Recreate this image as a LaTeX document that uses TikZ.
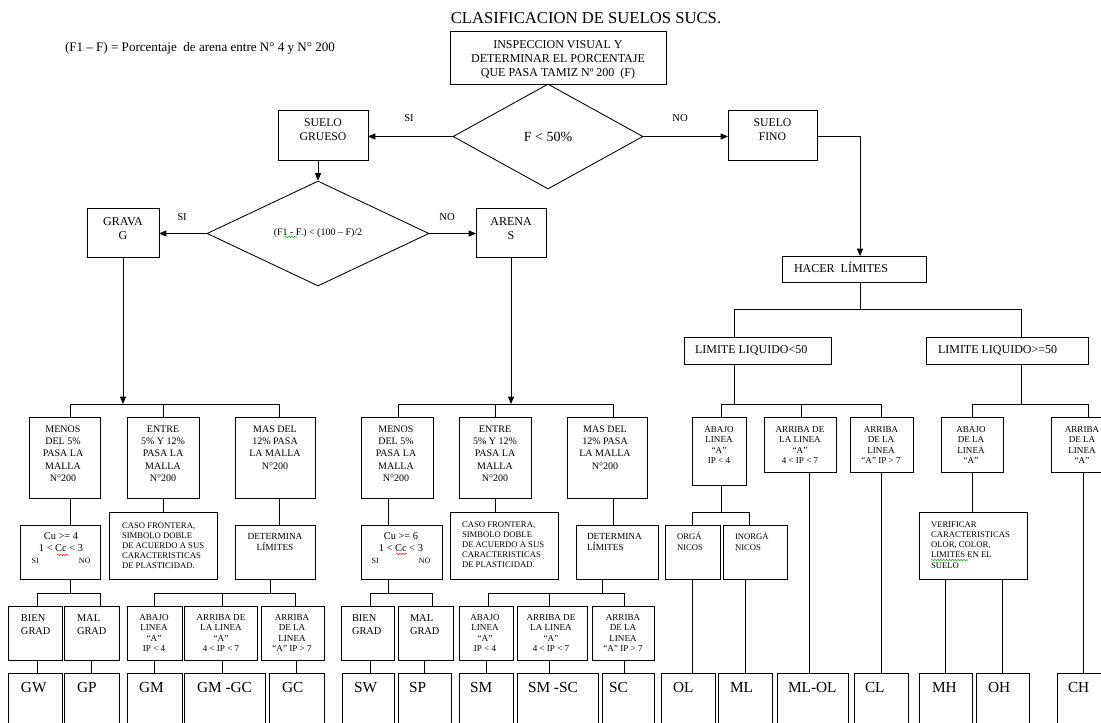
\documentclass[tikz,border=0pt]{standalone}
\usepackage{fontspec}
\setmainfont{Liberation Serif}
\usetikzlibrary{shapes.geometric,arrows.meta,decorations.pathmorphing}
\newcommand\fs[2]{\fontsize{#1}{#2}\selectfont}
\newcommand\bx[5]{\node[box,anchor=north west,minimum width={(#4-#2)*0.75pt},minimum height={(#5-#3)*0.75pt}] (#1) at (#2,#3) {};}
\tikzset{
  box/.style={draw, inner sep=0pt, outer sep=0pt},
  arr/.style={-{Triangle[length=5.5pt,width=4.5pt]}},
  tx/.style={inner sep=0pt, outer sep=0pt, align=center},
  txl/.style={inner sep=0pt, outer sep=0pt, align=left},
  big/.style={tx, font=\fs{8.8}{10.5}},
  lbl/.style={tx, anchor=base, font=\fs{8}{9}},
  rowa/.style={tx, anchor=north, font=\fs{7.5}{9.2}},
  rowc/.style={tx, anchor=north, font=\fs{6.8}{7.9}},
  res/.style={tx, anchor=base west, font=\fs{11.5}{13}},
  squig/.style={decorate, decoration={snake, amplitude=0.45pt, segment length=2.2pt}, line width=0.4pt},
}
\begin{document}
\begin{tikzpicture}[x=0.75pt,y=-0.75pt,line width=0.65pt]
\path[fill=white,use as bounding box] (0,0) rectangle (1101,723);

% ---- header ----
\node[tx,anchor=base,font=\fs{12.5}{15}] (title) at (586,24) {CLASIFICACION DE SUELOS SUCS.};
\node[tx,anchor=base west,font=\fs{9.8}{12}] (note) at (65,52) {(F1 – F) = Porcentaje\ \ de arena entre N° 4 y N° 200};

\bx{insp}{450}{31}{666}{84}
\node[big,anchor=north,font=\fs{9}{10.5}] (t-insp) at (558,40.3) {INSPECCION VISUAL Y\\DETERMINAR EL PORCENTAJE\\QUE PASA TAMIZ Nº 200\ \ (F)};

\node[diamond,draw,inner sep=0pt,minimum width={190*0.75pt},minimum height={105*0.75pt},font=\fs{10.5}{12}] (d1) at (548,136.5) {F < 50\%};
\node[lbl] (si1) at (409,122) {SI};
\node[lbl] (no1) at (680,122) {NO};

\bx{sg}{278}{110}{368}{160}
\node[big,anchor=north] (t-sg) at (323,119.2) {SUELO\\GRUESO};
\bx{sf}{728}{110}{817}{160}
\node[big,anchor=north] (t-sf) at (772.5,119.2) {SUELO\\FINO};
\draw[arr] (d1.west) -- (d1.west -| sg.east);
\draw[arr] (d1.east) -- (d1.east -| sf.west);

\node[diamond,draw,inner sep=0pt,minimum width={222*0.75pt},minimum height={105*0.75pt},font=\fs{7.5}{9}] (d2) at (318,233.5) {(F1 - F.) < (100 – F)/2};
\draw[arr] (sg.south -| d2.north) -- (d2.north);
\node[lbl] (si2) at (182,221) {SI};
\node[lbl] (no2) at (447,221) {NO};

\bx{gr}{87}{208}{159}{257}
\node[big,anchor=north,font=\fs{9}{10.5}] (t-gr) at (123,217.1) {GRAVA\\G};
\bx{ar}{476}{208}{546}{257}
\node[big,anchor=north,font=\fs{9}{10.5}] (t-ar) at (511,217.1) {ARENA\\S};
\draw[arr] (d2.west) -- (d2.west -| gr.east);
\draw[arr] (d2.east) -- (d2.east -| ar.west);

% ---- coordinates ----
\coordinate (gL) at (70,404);  \coordinate (gR) at (279,404);
\coordinate (gcuL) at (37,593); \coordinate (gcuR) at (100,593);
\coordinate (gdC) at (270,593); \coordinate (gdL) at (154,593); \coordinate (gdM) at (222,593); \coordinate (gdR) at (295,593);
\coordinate (sL) at (398,404); \coordinate (sR) at (613,404);
\coordinate (scuC) at (388,593); \coordinate (scuL) at (370,593); \coordinate (scuR) at (432,593);
\coordinate (sdC) at (602,593); \coordinate (sdL) at (488,593); \coordinate (sdM) at (549,593); \coordinate (sdR) at (624,593);
\coordinate (hx) at (860,309); \coordinate (ftL) at (734,309); \coordinate (ftR) at (1021,309);
\coordinate (f1C) at (734,404); \coordinate (f1L) at (721,404); \coordinate (f1M) at (801,404); \coordinate (f1R) at (881,404);
\coordinate (f2L) at (972,404); \coordinate (f2C) at (1021,404); \coordinate (f2R) at (1088,404);
\coordinate (foC) at (721,512); \coordinate (foL) at (692,512); \coordinate (foR) at (749,512);
\coordinate (fx809) at (809,600);

% ---- GRAVA group ----
\bx{gm1}{29}{417}{100}{498} \bx{gm2}{127}{417}{199}{498} \bx{gm3}{235}{417}{315}{498}
\node[rowa] (t-gm1) at (63,425.8) {MENOS\\DEL 5\%\\PASA LA\\MALLA\\N°200};
\node[rowa] (t-gm2) at (163,425.8) {ENTRE\\5\% Y 12\%\\PASA LA\\MALLA\\N°200};
\node[rowa] (t-gm3) at (275,425.8) {MAS DEL\\12\% PASA\\LA MALLA\\N°200};

\bx{gcu}{20}{525}{100}{579} \bx{gcf}{109}{512}{217}{579} \bx{gdl}{235}{525}{315}{579}
\node[tx,anchor=north,font=\fs{7.8}{9}] (t-gcu) at (61,533.1) {Cu >= 4\\1 < Cc < 3\\{\fs{6}{9}\makebox[44pt]{SI\hfill NO}}};
\node[txl,anchor=north west,font=\fs{6.5}{7.65}] (t-gcf) at (122,522.3) {CASO FRONTERA,\\SIMBOLO DOBLE\\DE ACUERDO A SUS\\CARACTERISTICAS\\DE PLASTICIDAD.};
\node[tx,anchor=north,font=\fs{7}{8.25}] (t-gdl) at (275,533.8) {DETERMINA\\LÍMITES};

\bx{gbg}{8}{606}{62}{660} \bx{gmg}{64}{606}{119}{660} \bx{gab}{127}{606}{182}{660} \bx{gar1}{184}{606}{257}{660} \bx{gar2}{261}{606}{324}{660}
\node[txl,anchor=north west,font=\fs{7.8}{9.75}] (t-gbg) at (21,615.1) {BIEN\\GRAD};
\node[txl,anchor=north west,font=\fs{7.8}{9.75}] (t-gmg) at (77,615.1) {MAL\\GRAD};
\node[rowc] (t-gab) at (154,614.1) {ABAJO\\LINEA\\“A”\\IP < 4};
\node[rowc] (t-gar1) at (221,614.1) {ARRIBA DE\\LA LINEA\\“A”\\4 < IP < 7};
\node[rowc] (t-gar2) at (292,614.1) {ARRIBA\\DE LA\\LINEA\\“A” IP > 7};

\bx{gw}{8}{673}{62}{740} \bx{gp}{64}{673}{119}{740} \bx{gmm}{127}{673}{182}{740} \bx{gmgc}{184}{673}{265}{740} \bx{gc}{269}{673}{324}{740}
\node[res] (t-gw) at (21,693) {GW};
\node[res] (t-gp) at (77,693) {GP};
\node[res] (t-gmm) at (139,693) {GM};
\node[res] (t-gmgc) at (197,693) {GM -GC};
\node[res] (t-gc) at (282,693) {GC};

\draw[arr] (gr.south) -- (gr.south |- gL);
\draw (gm1.north -| gL) -- (gL) -- (gR) -- (gm3.north -| gR);
\draw (gm2.north) -- (gm2.north |- gL);
\draw (gm1.south -| gL) -- (gcu.north -| gL);
\draw (gm2.south) -- (gm2.south |- gcf.north);
\draw (gm3.south -| gR) -- (gdl.north -| gR);
\draw (gcu.south -| gL) -- (gL |- gcuL);
\draw (gbg.north -| gcuL) -- (gcuL) -- (gcuR) -- (gmg.north -| gcuR);
\draw (gdl.south -| gdC) -- (gdC);
\draw (gab.north -| gdL) -- (gdL) -- (gdR) -- (gar2.north -| gdR);
\draw (gdM) -- (gar1.north -| gdM);
\draw (gbg.south -| gcuL) -- (gw.north -| gcuL);
\draw (gmg.south -| gp.north) -- (gp.north);
\draw (gab.south -| gmm.north) -- (gmm.north);
\draw (gar1.south -| gdM) -- (gmgc.north -| gdM);
\draw (gar2.south -| gc.north) -- (gc.north);

% ---- ARENA group ----
\bx{sm1}{361}{417}{433}{498} \bx{sm2}{459}{417}{531}{498} \bx{sm3}{567}{417}{647}{498}
\node[rowa] (t-sm1) at (396,425.8) {MENOS\\DEL 5\%\\PASA LA\\MALLA\\N°200};
\node[rowa] (t-sm2) at (495,425.8) {ENTRE\\5\% Y 12\%\\PASA LA\\MALLA\\N°200};
\node[rowa] (t-sm3) at (605,425.8) {MAS DEL\\12\% PASA\\LA MALLA\\N°200};

\bx{scu}{361}{525}{442}{579} \bx{scf}{450}{512}{558}{579} \bx{sdl}{576}{525}{658}{579}
\node[tx,anchor=north,font=\fs{7.8}{9}] (t-scu) at (401,533.1) {Cu >= 6\\1 < Cc < 3\\{\fs{6}{9}\makebox[44pt]{SI\hfill NO}}};
\node[txl,anchor=north west,font=\fs{6.5}{7.65}] (t-scf) at (462,521.3) {CASO FRONTERA,\\SIMBOLO DOBLE\\DE ACUERDO A SUS\\CARACTERISTICAS\\DE PLASTICIDAD.};
\node[txl,anchor=north west,font=\fs{7}{8.25}] (t-sdl) at (587,533.8) {DETERMINA\\LÍMITES};

\bx{sbg}{341}{606}{394}{660} \bx{smg}{398}{606}{453}{660} \bx{sab}{459}{606}{513}{660} \bx{sar1}{517}{606}{587}{660} \bx{sar2}{592}{606}{654}{660}
\node[txl,anchor=north west,font=\fs{7.8}{9.75}] (t-sbg) at (352,615.1) {BIEN\\GRAD};
\node[txl,anchor=north west,font=\fs{7.8}{9.75}] (t-smg) at (410,615.1) {MAL\\GRAD};
\node[rowc] (t-sab) at (485,614.1) {ABAJO\\LINEA\\“A”\\IP < 4};
\node[rowc] (t-sar1) at (551,614.1) {ARRIBA DE\\LA LINEA\\“A”\\4 < IP < 7};
\node[rowc] (t-sar2) at (623,614.1) {ARRIBA\\DE LA\\LINEA\\“A” IP > 7};

\bx{sw}{342}{673}{394}{740} \bx{sp}{398}{673}{451}{740} \bx{sm}{459}{673}{513}{740} \bx{smsc}{517}{673}{598}{740} \bx{sc}{602}{673}{654}{740}
\node[res] (t-sw) at (354,693) {SW};
\node[res] (t-sp) at (409,693) {SP};
\node[res] (t-sm) at (470,693) {SM};
\node[res] (t-smsc) at (528,693) {SM -SC};
\node[res] (t-sc) at (609,693) {SC};

\draw[arr] (ar.south) -- (ar.south |- sL);
\draw (sm1.north -| sL) -- (sL) -- (sR) -- (sm3.north -| sR);
\draw (sm2.north) -- (sm2.north |- sL);
\draw (sm1.south -| scuC) -- (scu.north -| scuC);
\draw (sm2.south) -- (sm2.south |- scf.north);
\draw (sm3.south -| sR) -- (sdl.north -| sR);
\draw (scu.south -| scuC) -- (scuC);
\draw (sbg.north -| scuL) -- (scuL) -- (scuR) -- (smg.north -| scuR);
\draw (sdl.south -| sdC) -- (sdC);
\draw (sab.north -| sdL) -- (sdL) -- (sdR) -- (sar2.north -| sdR);
\draw (sdM) -- (sar1.north -| sdM);
\draw (sbg.south -| scuL) -- (sw.north -| scuL);
\draw (smg.south -| sp.north) -- (sp.north);
\draw (sab.south -| sm.north) -- (sm.north);
\draw (sar1.south -| sdM) -- (smsc.north -| sdM);
\draw (sar2.south -| sdR) -- (sc.north -| sdR);

% ---- SUELO FINO group ----
\bx{hl}{782}{256}{926}{282}
\node[tx,anchor=base west,font=\fs{9}{10.5}] (t-hl) at (794,273) {HACER\ \ LÍMITES};
\bx{ll1}{684}{337}{831}{364}
\node[tx,anchor=base west,font=\fs{9}{10.5}] (t-ll1) at (695,354) {LIMITE LIQUIDO<50};
\bx{ll2}{926}{337}{1088}{364}
\node[tx,anchor=base west,font=\fs{9}{10.5}] (t-ll2) at (938,354) {LIMITE LIQUIDO>=50};

\bx{fab}{692}{417}{746}{485} \bx{far1}{764}{417}{836}{472} \bx{far2}{850}{417}{913}{472} \bx{fab2}{941}{417}{1003}{472} \bx{far3}{1051}{417}{1115}{472}
\node[rowc] (t-fab) at (719,426.1) {ABAJO\\LINEA\\“A”\\IP < 4};
\node[rowc] (t-far1) at (800,426.1) {ARRIBA DE\\LA LINEA\\“A”\\4 < IP < 7};
\node[rowc] (t-far2) at (881,426.1) {ARRIBA\\DE LA\\LINEA\\“A” IP > 7};
\node[rowc] (t-fab2) at (971,426.1) {ABAJO\\DE LA\\LINEA\\“A”};
\node[rowc] (t-far3) at (1082,426.1) {ARRIBA\\DE LA\\LINEA\\“A”};

\bx{forg}{665}{525}{720}{579} \bx{finorg}{723}{525}{787}{579} \bx{fver}{919}{512}{1027}{579}
\node[txl,anchor=north west,font=\fs{6.5}{8.25}] (t-forg) at (677,532.5) {ORGÁ\\NICOS};
\node[txl,anchor=north west,font=\fs{6.5}{8.25}] (t-finorg) at (735,532.5) {INORGÁ\\NICOS};
\node[txl,anchor=north west,font=\fs{6.5}{7.7}] (t-fver) at (931,521.3) {VERIFICAR\\CARACTERISTICAS\\OLOR, COLOR,\\LIMITES EN EL\\SUELO};

\bx{ol}{661}{673}{715}{740} \bx{ml}{718}{673}{772}{740} \bx{mlol}{777}{673}{848}{740} \bx{cl}{854}{673}{908}{740}
\bx{mh}{919}{673}{972}{740} \bx{oh}{976}{673}{1029}{740} \bx{ch}{1057}{673}{1125}{740}
\node[res] (t-ol) at (673,693) {OL};
\node[res] (t-ml) at (730,693) {ML};
\node[res] (t-mlol) at (788,693) {ML-OL};
\node[res] (t-cl) at (865,693) {CL};
\node[res] (t-mh) at (932,693) {MH};
\node[res] (t-oh) at (988,693) {OH};
\node[res] (t-ch) at (1068,693) {CH};

\draw[arr] (sf.east |- d1.east) -| (hl.north -| hx);
\draw (hl.south -| hx) -- (hx);
\draw (ll1.north -| ftL) -- (ftL) -- (ftR) -- (ll2.north -| ftR);
\draw (ll1.south -| ftL) -- (f1C);
\draw (fab.north -| f1L) -- (f1L) -- (f1R) -- (far2.north -| f1R);
\draw (f1M) -- (far1.north -| f1M);
\draw (ll2.south -| ftR) -- (f2C);
\draw (fab2.north -| f2L) -- (f2L) -- (f2R) -- (far3.north -| f2R);
\draw (fab.south -| foC) -- (foC);
\draw (forg.north -| foL) -- (foL) -- (foR) -- (finorg.north -| foR);
\draw (forg.south -| foL) -- (ol.north -| foL);
\draw (finorg.south -| ml.north) -- (ml.north);
\draw (far1.south -| fx809) -- (mlol.north -| fx809);
\draw (far2.south) -- (far2.south |- cl.north);
\draw (fab2.south) -- (fab2.south |- fver.north);
\draw (mh.north |- fver.south) -- (mh.north);
\draw (oh.north |- fver.south) -- (oh.north);
\draw (far3.south) -- (far3.south |- ch.north);

% ---- spell-check squiggles ----
\draw[squig, green!60!black] (285,237) -- (297,237);
\draw[squig, red] (57,555) -- (68,555);
\draw[squig, red] (396,554) -- (407,554);
\draw[squig, green!60!black] (931,560) -- (968,560);
\end{tikzpicture}
\end{document}
